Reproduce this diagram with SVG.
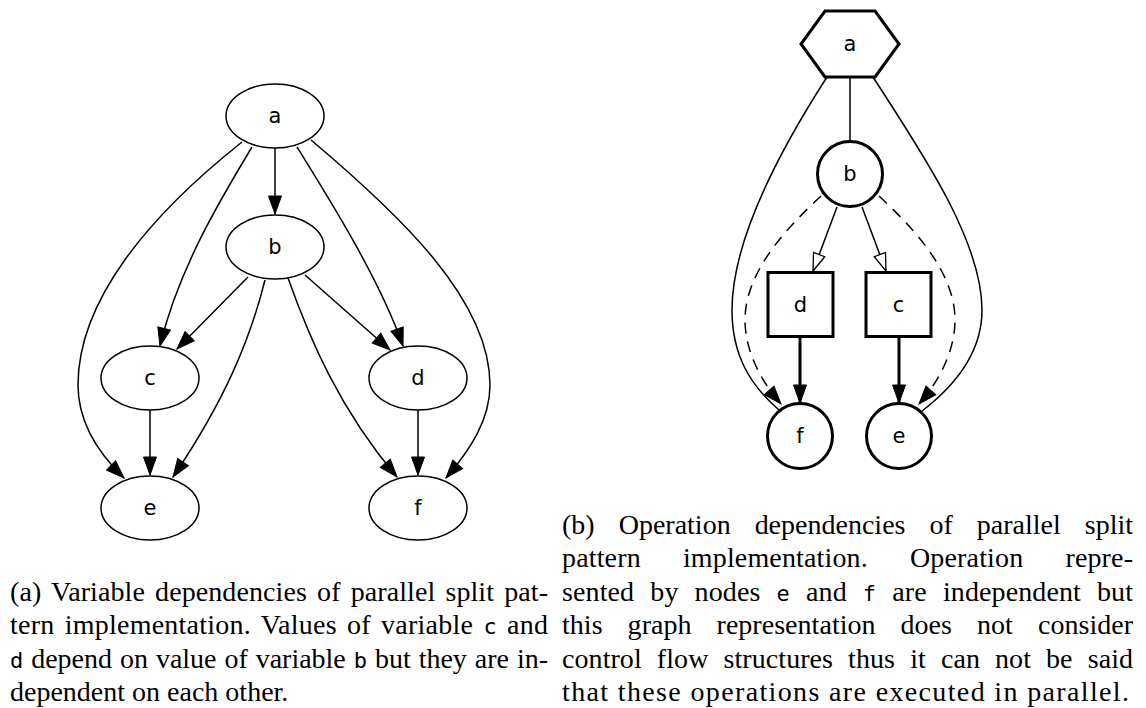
<svg xmlns="http://www.w3.org/2000/svg" width="1146" height="708" viewBox="0 0 1146 708">
  <defs>
    <style>
      .bg { fill: #fff; }
      .nd { fill: #fff; stroke: #000; stroke-width: 1.5; }
      .ndb { fill: #fff; stroke: #000; stroke-width: 3; }
      .lbl { font-family: "DejaVu Sans", sans-serif; font-size: 21px; fill: #000; text-anchor: middle; dominant-baseline: central; }
      .e { fill: none; stroke: #000; stroke-width: 1.5; }
      .eb { fill: none; stroke: #000; stroke-width: 3; }
      .ed { fill: none; stroke: #000; stroke-width: 1.5; stroke-dasharray: 11 8; }
      .cap { font-family: "Liberation Serif", "Times New Roman", serif; font-size: 28px; fill: #000; }
      .tt { font-family: "DejaVu Sans Mono", monospace; font-size: 22px; }
    </style>
    <marker id="arr" markerUnits="userSpaceOnUse" markerWidth="20" markerHeight="14" refX="18" refY="6.5" orient="auto" overflow="visible">
      <path d="M0,0 L18,6.5 L0,13 z" fill="#000" stroke="#000" stroke-width="1"/>
    </marker>
    <marker id="open" markerUnits="userSpaceOnUse" markerWidth="20" markerHeight="14" refX="18" refY="6.5" orient="auto" overflow="visible">
      <path d="M0.5,0.5 L18,6.5 L0.5,12.5 z" fill="#fff" stroke="#000" stroke-width="1.3"/>
    </marker>
  </defs>
  <rect class="bg" x="0" y="0" width="1146" height="708"/>

  <!-- (a) variable dependency graph -->
  <g id="var-edges">
    <path class="e" d="M275,148 L275,214" marker-end="url(#arr)"/>
    <path class="e" d="M252,147 C220,200 178,270 160,346" marker-end="url(#arr)"/>
    <path class="e" d="M242,142 C150,215 78,300 78,385 C78,420 95,450 124,478" marker-end="url(#arr)"/>
    <path class="e" d="M297,147 C330,200 380,280 403,346" marker-end="url(#arr)"/>
    <path class="e" d="M311,140 C400,215 490,300 490,385 C490,420 470,450 446,478" marker-end="url(#arr)"/>
    <path class="e" d="M248,277 L177,349" marker-end="url(#arr)"/>
    <path class="e" d="M305,275 L390,350" marker-end="url(#arr)"/>
    <path class="e" d="M265,280 C250,340 225,400 173,477" marker-end="url(#arr)"/>
    <path class="e" d="M288,278 C310,340 340,410 397,477" marker-end="url(#arr)"/>
    <path class="e" d="M150,410 L150,475" marker-end="url(#arr)"/>
    <path class="e" d="M418,410 L418,475" marker-end="url(#arr)"/>
  </g>
  <g id="var-a"><ellipse class="nd" cx="275" cy="116" rx="49" ry="32"/><text class="lbl" x="275" y="116">a</text></g>
  <g id="var-b"><ellipse class="nd" cx="275" cy="247" rx="49" ry="32"/><text class="lbl" x="275" y="247">b</text></g>
  <g id="var-c"><ellipse class="nd" cx="150" cy="378" rx="49" ry="32"/><text class="lbl" x="150" y="378">c</text></g>
  <g id="var-d"><ellipse class="nd" cx="418" cy="378" rx="49" ry="32"/><text class="lbl" x="418" y="378">d</text></g>
  <g id="var-e"><ellipse class="nd" cx="150" cy="508" rx="49" ry="32"/><text class="lbl" x="150" y="508">e</text></g>
  <g id="var-f"><ellipse class="nd" cx="418" cy="508" rx="49" ry="32"/><text class="lbl" x="418" y="508">f</text></g>

  <!-- (b) operation dependency graph -->
  <g id="op-edges">
    <path class="e" d="M850,77 L850,141"/>
    <path class="e" d="M827,77 C780,150 732,240 732,310 C732,355 750,385 779,410"/>
    <path class="e" d="M873,77 C920,150 982,240 982,310 C982,355 952,388 922,411"/>
    <path class="ed" d="M821,196 C790,225 745,270 745,320 C745,350 760,380 781,404" marker-end="url(#arr)"/>
    <path class="ed" d="M879,196 C910,225 955,270 955,320 C955,350 940,380 919,404" marker-end="url(#arr)"/>
    <path class="e" d="M837,207 L813,271" marker-end="url(#open)"/>
    <path class="e" d="M862,207 L886,271" marker-end="url(#open)"/>
    <path class="eb" d="M800,338 L800,403" marker-end="url(#arr)"/>
    <path class="eb" d="M899,338 L899,403" marker-end="url(#arr)"/>
  </g>
  <g id="op-a"><polygon class="ndb" points="825,11 875,11 899,44 875,77 825,77 801,44"/><text class="lbl" x="850" y="44">a</text></g>
  <g id="op-b"><circle class="ndb" cx="850" cy="174" r="32.5"/><text class="lbl" x="850" y="174">b</text></g>
  <g id="op-d"><rect class="ndb" x="768" y="272.5" width="65" height="64"/><text class="lbl" x="800.5" y="304.5">d</text></g>
  <g id="op-c"><rect class="ndb" x="866" y="272.5" width="65" height="64"/><text class="lbl" x="898.5" y="304.5">c</text></g>
  <g id="op-f"><circle class="ndb" cx="800" cy="436" r="32.5"/><text class="lbl" x="800" y="436">f</text></g>
  <g id="op-e"><circle class="ndb" cx="899" cy="436" r="32.5"/><text class="lbl" x="899" y="436">e</text></g>

  <!-- captions -->
  <g id="caption-a" class="cap">
    <text x="10" y="600.5" word-spacing="3" textLength="538" lengthAdjust="spacing">(a) Variable dependencies of parallel split pat-</text>
    <text x="10" y="634" word-spacing="3" textLength="538" lengthAdjust="spacing">tern implementation.  Values of variable <tspan class="tt">c</tspan> and</text>
    <text x="10" y="667.5" word-spacing="1" textLength="538" lengthAdjust="spacing"><tspan class="tt">d</tspan> depend on value of variable <tspan class="tt">b</tspan> but they are in-</text>
    <text x="10" y="701">dependent on each other.</text>
  </g>
  <g id="caption-b" class="cap">
    <text x="562" y="533.5" word-spacing="17" textLength="571" lengthAdjust="spacing">(b) Operation dependencies of parallel split</text>
    <text x="562" y="567" word-spacing="35" textLength="571" lengthAdjust="spacing">pattern implementation. Operation repre-</text>
    <text x="562" y="600.5" word-spacing="9" textLength="571" lengthAdjust="spacing">sented by nodes <tspan class="tt">e</tspan> and <tspan class="tt">f</tspan> are independent but</text>
    <text x="562" y="634" word-spacing="18" textLength="571" lengthAdjust="spacing">this graph representation does not consider</text>
    <text x="562" y="667.5" word-spacing="8" textLength="571" lengthAdjust="spacing">control flow structures thus it can not be said</text>
    <text x="562" y="701" textLength="567" lengthAdjust="spacing">that these operations are executed in parallel.</text>
  </g>
</svg>
